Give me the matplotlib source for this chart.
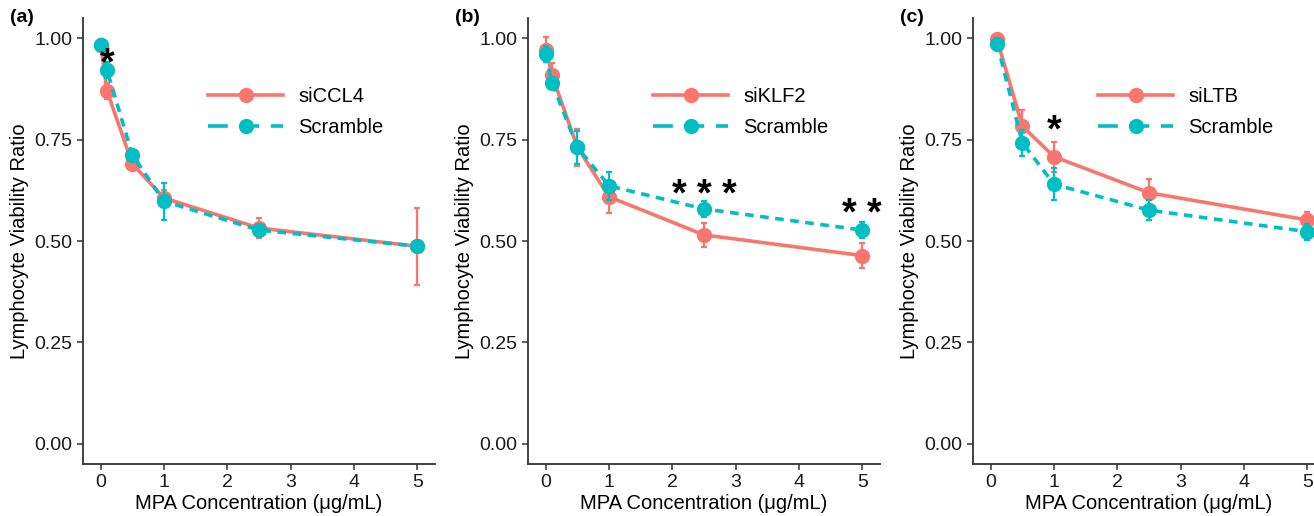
import matplotlib
matplotlib.use("Agg")
import matplotlib.pyplot as plt
from matplotlib.lines import Line2D

plt.rcParams['font.family'] = ['Liberation Sans', 'DejaVu Sans']

RED = '#F8766D'
CYAN = '#00BFC4'

# ---- data ----
x_a = [0, 0.1, 0.5, 1, 2.5, 5]
a_si = [0.983, 0.870, 0.690, 0.606, 0.532, 0.487]
a_si_err = [0.015, 0.02, 0.015, 0.02, 0.025, 0.095]
a_sc = [0.983, 0.921, 0.712, 0.598, 0.527, 0.487]
a_sc_err = [0.01, 0.02, 0.015, 0.045, 0.015, 0.01]

x_b = [0, 0.1, 0.5, 1, 2.5, 5]
b_si = [0.972, 0.909, 0.731, 0.609, 0.515, 0.464]
b_si_err = [0.03, 0.03, 0.045, 0.04, 0.03, 0.03]
b_sc = [0.962, 0.890, 0.731, 0.636, 0.579, 0.527]
b_sc_err = [0.02, 0.015, 0.04, 0.035, 0.02, 0.02]

x_c = [0.1, 0.5, 1, 2.5, 5]
c_si = [0.997, 0.783, 0.708, 0.619, 0.552]
c_si_err = [0.01, 0.04, 0.037, 0.035, 0.02]
c_sc = [0.987, 0.742, 0.640, 0.576, 0.523]
c_sc_err = [0.01, 0.033, 0.04, 0.025, 0.02]

labels = ['siCCL4', 'siKLF2', 'siLTB']
panel_tags = ['(a)', '(b)', '(c)']
# significance annotations: (x, y, text)
sig_a = [(0.1, 0.935, '*')]
sig_b = [(2.5, 0.612, '* * *'), (5, 0.563, '* *')]
sig_c = [(1, 0.77, '*')]

xticks = [0, 1, 2, 3, 4, 5]
yticks = [0.0, 0.25, 0.5, 0.75, 1.0]
ytick_labels = ['0.00', '0.25', '0.50', '0.75', '1.00']

W, H = 1314, 516
fig = plt.figure(figsize=(W / 100, H / 100), dpi=100)

panels = [
    (83, x_a, a_si, a_si_err, a_sc, a_sc_err, sig_a),
    (528, x_b, b_si, b_si_err, b_sc, b_sc_err, sig_b),
    (973, x_c, c_si, c_si_err, c_sc, c_sc_err, sig_c),
]

top, bottom = 18, 464
pw = 352
AX = '#333333'
for i, (left, xs, si, si_e, sc, sc_e, sigs) in enumerate(panels):
    ax = fig.add_axes([left / W, 1 - bottom / H, pw / W, (bottom - top) / H])
    lw = 2.6
    ax.errorbar(xs, si, yerr=si_e, color=RED, lw=lw, ls='-', marker='o',
                ms=10, elinewidth=1.6, capsize=2.5, capthick=1.6, zorder=3)
    ln = ax.errorbar(xs, sc, yerr=sc_e, color=CYAN, lw=lw, marker='o',
                     ms=10, elinewidth=1.6, capsize=2.5, capthick=1.6, zorder=4)
    ln[0].set_dashes([2.4, 1.8])
    for (sx, sy, st) in sigs:
        ax.text(sx, sy, st, ha='center', va='center', fontsize=27,
                color='black', zorder=5, fontweight='bold')
    ax.set_xlim(-0.28, 5.28)
    ax.set_ylim(-0.05, 1.05)
    ax.set_xticks(xticks)
    ax.set_xticklabels([str(t) for t in xticks])
    ax.set_yticks(yticks)
    ax.set_yticklabels(ytick_labels)
    for s in ['top', 'right']:
        ax.spines[s].set_visible(False)
    for s in ['left', 'bottom']:
        ax.spines[s].set_color(AX)
        ax.spines[s].set_linewidth(1.3)
    ax.tick_params(axis='both', colors=AX, labelcolor='#1a1a1a',
                   labelsize=14, length=4, width=1.1)
    ax.set_xlabel('MPA Concentration (\u03bcg/mL)', fontsize=14.5,
                  color='black', labelpad=2)
    ax.set_ylabel('Lymphocyte Viability Ratio', fontsize=14.5,
                  color='black', labelpad=4)
    h1 = Line2D([], [], color=RED, lw=lw, marker='o', ms=10)
    h2 = Line2D([], [], color=CYAN, lw=lw, marker='o', ms=10, dashes=[5.5, 3.2])
    ax.legend([h1, h2], [labels[i], 'Scramble'], loc='center left',
              bbox_to_anchor=(0.305, 0.79), frameon=False, fontsize=14.5,
              handlelength=3.7, handletextpad=0.75, labelspacing=0.6,
              numpoints=1)
    fig.text((left - 73) / W, 1 - 18 / H, panel_tags[i], fontsize=14,
             fontweight='bold', ha='left', va='center')

fig.savefig('out.png', dpi=100)
